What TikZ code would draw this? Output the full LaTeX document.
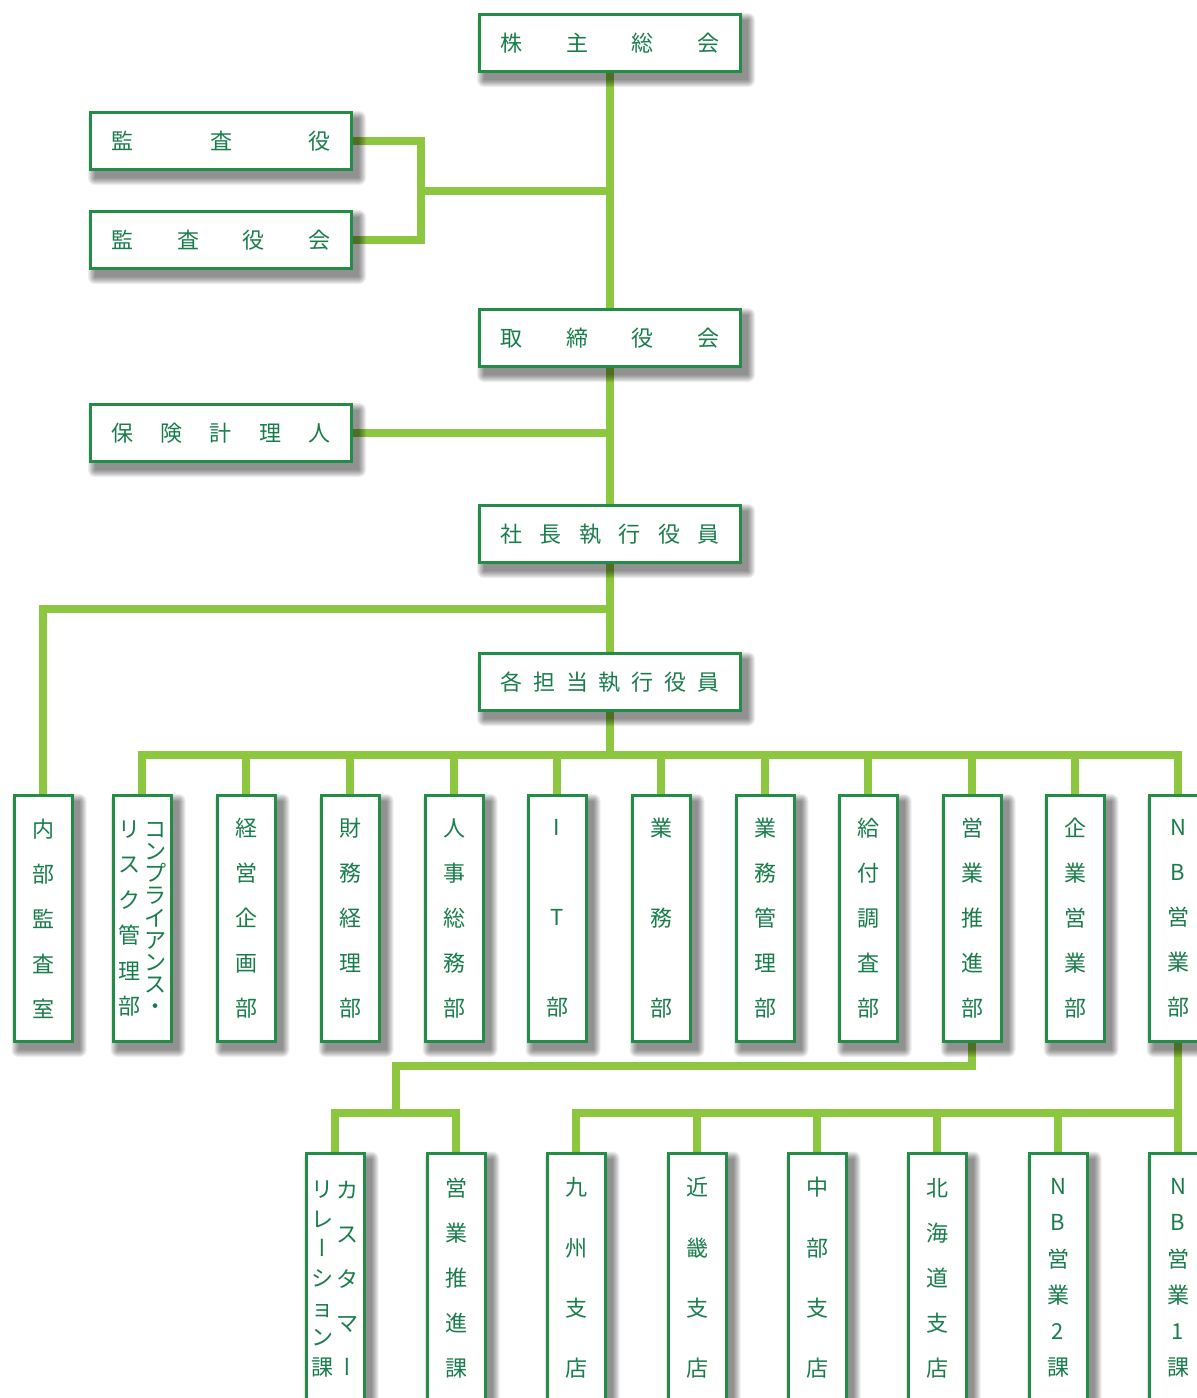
\documentclass[tikz,border=0pt]{standalone}
\usepackage{fontspec}
\setmainfont{Noto Sans CJK JP}
\newfontfamily\vfont[RawFeature=+vert]{Noto Sans CJK JP}
\definecolor{boxgreen}{RGB}{35,140,70}
\definecolor{txtgreen}{RGB}{25,125,75}
\definecolor{linegreen}{RGB}{141,198,63}
\pgfdeclarelayer{background}
\pgfdeclarelayer{shadowlayer}
\pgfsetlayers{background,shadowlayer,main}
\tikzset{
  conn/.style={draw=linegreen, line width=7.5pt},
  orgbox/.style={draw=boxgreen, line width=3pt, fill=white, inner sep=0pt, text=txtgreen},
  hbox/.style={orgbox, minimum width=261pt, minimum height=57pt, text width=219pt,
    font=\fontsize{22}{22}\selectfont},
  vbox/.style={orgbox, minimum width=58pt, minimum height=246pt, align=center,
    font=\fontsize{22}{45}\selectfont},
  lbox/.style={vbox, minimum height=250pt},
  vtext/.style={inner sep=0pt, text=txtgreen, align=center},
  shadowfill/.style={fill=black, opacity=0.065},
}
\begin{document}
\begin{tikzpicture}[x=1pt,y=-1pt]
\clip (0,0) rectangle (1197,1398);

% top boxes
\node[hbox] (kabu) at (610,43) {株\hfill 主\hfill 総\hfill 会};
\node[hbox] (kansa) at (221,141) {監\hfill 査\hfill 役};
\node[hbox] (kansakai) at (221,240) {監\hfill 査\hfill 役\hfill 会};
\node[hbox] (tori) at (610,338) {取\hfill 締\hfill 役\hfill 会};
\node[hbox] (hoken) at (221,433) {保\hfill 険\hfill 計\hfill 理\hfill 人};
\node[hbox] (shacho) at (610,534) {社\hfill 長\hfill 執\hfill 行\hfill 役\hfill 員};
\node[hbox] (kaku) at (610,682) {各\hfill 担\hfill 当\hfill 執\hfill 行\hfill 役\hfill 員};

% middle row
\node[vbox] (naibu) at (43,918.5) {内\\部\\監\\査\\室};
\node[vbox] (comp) at (142,918.5) {};
\node[vtext, font=\fontsize{22}{22.1}\selectfont] (compa) at (155,918.5) {コ\\ン\\プ\\ラ\\イ\\ア\\ン\\ス\\・};
\node[vtext, font=\fontsize{22}{35.4}\selectfont] (compb) at (129,918.5) {リ\\ス\\ク\\管\\理\\部};
\node[vbox] (keiei) at (246,918.5) {経\\営\\企\\画\\部};
\node[vbox] (zaimu) at (350,918.5) {財\\務\\経\\理\\部};
\node[vbox] (jinji) at (454,918.5) {人\\事\\総\\務\\部};
\node[vbox, font=\fontsize{22}{90}\selectfont] (it) at (557,918.5) {I\\T\\部};
\node[vbox, font=\fontsize{22}{90}\selectfont] (gyomu) at (661,918.5) {業\\務\\部};
\node[vbox] (gkanri) at (765,918.5) {業\\務\\管\\理\\部};
\node[vbox] (kyufu) at (868,918.5) {給\\付\\調\\査\\部};
\node[vbox] (eisui) at (972,918.5) {営\\業\\推\\進\\部};
\node[vbox] (kigyo) at (1075,918.5) {企\\業\\営\\業\\部};
\node[vbox] (nb) at (1178,918.5) {N\\B\\営\\業\\部};

% bottom row
\node[lbox] (cust) at (335,1278) {};
\node[vtext, font=\fontsize{22}{44.3}\selectfont] (custa) at (347,1278.5) {カ\\ス\\タ\\マ\\{\vfont ー}};
\node[vtext, font=\fontsize{22}{29.7}\selectfont] (custb) at (322,1279) {リ\\レ\\{\vfont ー}\\シ\\ョ\\ン\\課};
\node[lbox] (eika) at (456,1278) {営\\業\\推\\進\\課};
\node[lbox, font=\fontsize{22}{60.3}\selectfont] (kyushu) at (576,1278) {九\\州\\支\\店};
\node[lbox, font=\fontsize{22}{60.3}\selectfont] (kinki) at (697,1278) {近\\畿\\支\\店};
\node[lbox, font=\fontsize{22}{60.3}\selectfont] (chubu) at (817,1278) {中\\部\\支\\店};
\node[lbox] (hokkai) at (937,1278) {北\\海\\道\\支\\店};
\node[lbox, font=\fontsize{22}{36.2}\selectfont] (nbtwo) at (1058,1278) {N\\B\\営\\業\\2\\課};
\node[lbox, font=\fontsize{22}{36.2}\selectfont] (nbone) at (1178,1278) {N\\B\\営\\業\\1\\課};

% soft drop shadows
\begin{pgfonlayer}{shadowlayer}
\foreach \n in {kabu,kansa,kansakai,tori,hoken,shacho,kaku,
  naibu,comp,keiei,zaimu,jinji,it,gyomu,gkanri,kyufu,eisui,kigyo,nb,
  cust,eika,kyushu,kinki,chubu,hokkai,nbtwo,nbone}
  \foreach \e in {0,1,2,3,4,5,6,7}
    \fill[shadowfill, rounded corners=\e pt] ([shift={(6-\e,7-\e)}]\n.north west) rectangle ([shift={(6+\e,7+\e)}]\n.south east);
\end{pgfonlayer}

% connectors
\coordinate (kj) at (421,191);
\coordinate (yj) at (0,609);
\coordinate (bus) at (0,755);
\coordinate (lb1) at (396,1066);
\coordinate (lb2) at (0,1113);
\begin{pgfonlayer}{background}
\fill[white] (0,0) rectangle (1197,1398);
\draw[conn] (kabu.south) -- (tori.north);
\draw[conn] (kansa.east) -| (kj) |- (kansakai.east);
\draw[conn] (kj) -- (kj -| kabu.south);
\draw[conn] (tori.south) -- (shacho.north);
\draw[conn] (hoken.east) -- (hoken.east -| tori.south);
\draw[conn] (shacho.south) -- (kaku.north);
\draw[conn] (naibu.north) |- (yj -| shacho.south);
\draw[conn] (kaku.south) -- (bus -| kaku.south);
\draw[conn] (comp.north) |- (bus -| nb.north) -- (nb.north);
\foreach \n in {keiei,zaimu,jinji,it,gyomu,gkanri,kyufu,eisui,kigyo}
  \draw[conn] (\n.north) -- (bus -| \n.north);
\draw[conn] (eisui.south) |- (lb1) -- (lb1 |- lb2);
\draw[conn] (cust.north) |- (lb2 -| eika.north) -- (eika.north);
\draw[conn] (nb.south) -- (nbone.north);
\draw[conn] (kyushu.north) |- (lb2 -| nbone.north);
\foreach \n in {kinki,chubu,hokkai,nbtwo}
  \draw[conn] (\n.north) -- (lb2 -| \n.north);
\end{pgfonlayer}
\end{tikzpicture}
\end{document}
